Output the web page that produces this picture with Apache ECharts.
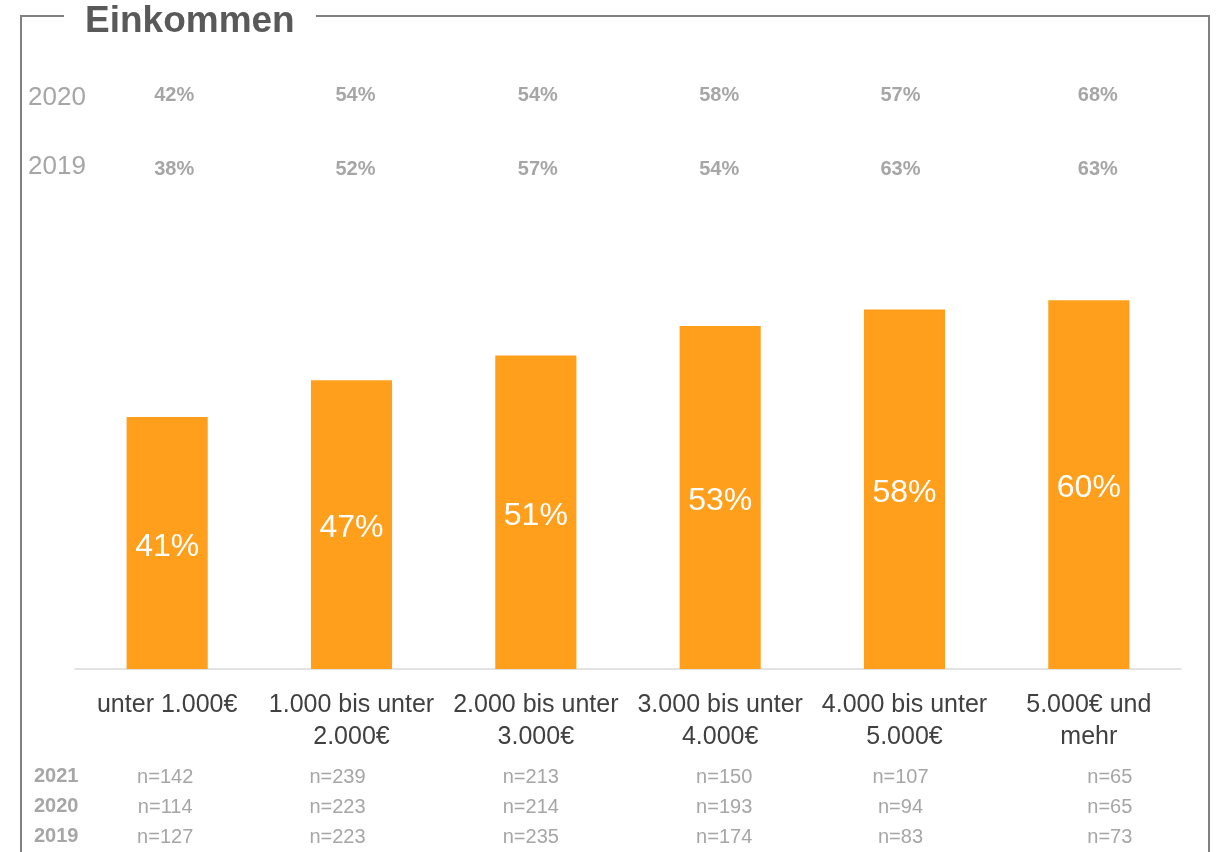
<!DOCTYPE html>
<html>
<head>
<meta charset="utf-8">
<script src="https://cdn.jsdelivr.net/npm/echarts@6/dist/echarts.min.js"></script>
<style>
  html, body { margin: 0; padding: 0; background: #fff; }
  #chart { width: 1216px; height: 852px; }
</style>
</head>
<body>
<div id="chart"></div>
<script>
// Einkommen – 2021 bars, earlier years as text rows
const categories = ['unter 1.000€', '1.000 bis unter\n2.000€', '2.000 bis unter\n3.000€', '3.000 bis unter\n4.000€', '4.000 bis unter\n5.000€', '5.000€ und\nmehr'];
const barHeights = [41, 47, 51, 55.8, 58.5, 60];   // heights as drawn
const barLabels = ['41%', '47%', '51%', '53%', '58%', '60%'];
const share2020 = ['42%', '54%', '54%', '58%', '57%', '68%'];
const share2019 = ['38%', '52%', '57%', '54%', '63%', '63%'];
const n2021 = [142, 239, 213, 150, 107, 65];
const n2020 = [114, 223, 214, 193, 94, 65];
const n2019 = [127, 223, 235, 174, 83, 73];

const grey = '#a6a6a6';
const font = 'Liberation Sans, Arial, sans-serif';

// small horizontal nudges of the text rows (px, + = right)
const topShift = [7, 4, 2, -1, -4, 9];
const nShift = [-2, -14, -5, 4, -4, 21];

function shifted(shift, style) {
  const rich = {};
  shift.forEach((d, i) => {
    rich['s' + i] = Object.assign({}, style, {
      padding: d >= 0 ? [0, 0, 0, 2 * d] : [0, -2 * d, 0, 0]
    });
  });
  return {
    rich: rich,
    formatter: (v, i) => v.split('\n').map(t => '{s' + i + '|' + t + '}').join('\n')
  };
}

const myChart = echarts.init(document.getElementById('chart'));

const pctStyle = { color: grey, fontSize: 20, fontWeight: 'bold', fontFamily: font };
const nStyle = { color: grey, fontSize: 20, lineHeight: 30, fontFamily: font };

const option = {
  animation: false,
  textStyle: { fontFamily: font },
  grid: { left: 75, right: 35, top: 202, bottom: 183 },
  yAxis: { type: 'value', min: 0, max: 76, show: false },
  xAxis: [
    {
      type: 'category',
      data: categories,
      axisLine: { lineStyle: { color: '#d9d9d9', width: 1.5 } },
      axisTick: { show: false },
      axisLabel: { color: '#404040', fontSize: 25, lineHeight: 32, margin: 20, interval: 0 }
    },
    {
      type: 'category',
      data: categories.map((c, i) => 'n=' + n2021[i] + '\nn=' + n2020[i] + '\nn=' + n2019[i]),
      position: 'bottom',
      offset: 93,
      axisLine: { show: false },
      axisTick: { show: false },
      axisLabel: Object.assign({ margin: 0, interval: 0 }, shifted(nShift, nStyle))
    },
    {
      type: 'category',
      data: share2019,
      position: 'top',
      offset: 23,
      axisLine: { show: false },
      axisTick: { show: false },
      axisLabel: Object.assign({ margin: 0, interval: 0 }, shifted(topShift, pctStyle))
    },
    {
      type: 'category',
      data: share2020,
      position: 'top',
      offset: 97,
      axisLine: { show: false },
      axisTick: { show: false },
      axisLabel: Object.assign({ margin: 0, interval: 0 }, shifted(topShift, pctStyle))
    }
  ],
  series: [
    {
      name: '2021',
      type: 'bar',
      xAxisIndex: 0,
      data: barHeights,
      barWidth: '44%',
      itemStyle: { color: '#ff9f1c' },
      label: {
        show: true,
        position: 'inside',
        offset: [0, 4],
        color: '#fff',
        fontSize: 32,
        formatter: p => barLabels[p.dataIndex]
      }
    }
  ],
  graphic: [
    // frame with gap for the title
    { type: 'polyline', shape: { points: [[64, 16], [21, 16], [21, 860]] }, style: { stroke: '#808080', lineWidth: 2, fill: null } },
    { type: 'polyline', shape: { points: [[316, 16], [1209, 16], [1209, 860]] }, style: { stroke: '#808080', lineWidth: 2, fill: null } },
    { type: 'text', left: 85, top: 3, style: { text: 'Einkommen', font: 'bold 37px ' + font, fill: '#595959' } },
    { type: 'text', left: 28, top: 85, style: { text: '2020', font: '26px ' + font, fill: grey } },
    { type: 'text', left: 28, top: 154, style: { text: '2019', font: '26px ' + font, fill: grey } },
    { type: 'text', left: 34, top: 766, style: { text: '2021', font: 'bold 20px ' + font, fill: grey } },
    { type: 'text', left: 34, top: 796, style: { text: '2020', font: 'bold 20px ' + font, fill: grey } },
    { type: 'text', left: 34, top: 826, style: { text: '2019', font: 'bold 20px ' + font, fill: grey } }
  ]
};

myChart.setOption(option);
</script>
</body>
</html>
